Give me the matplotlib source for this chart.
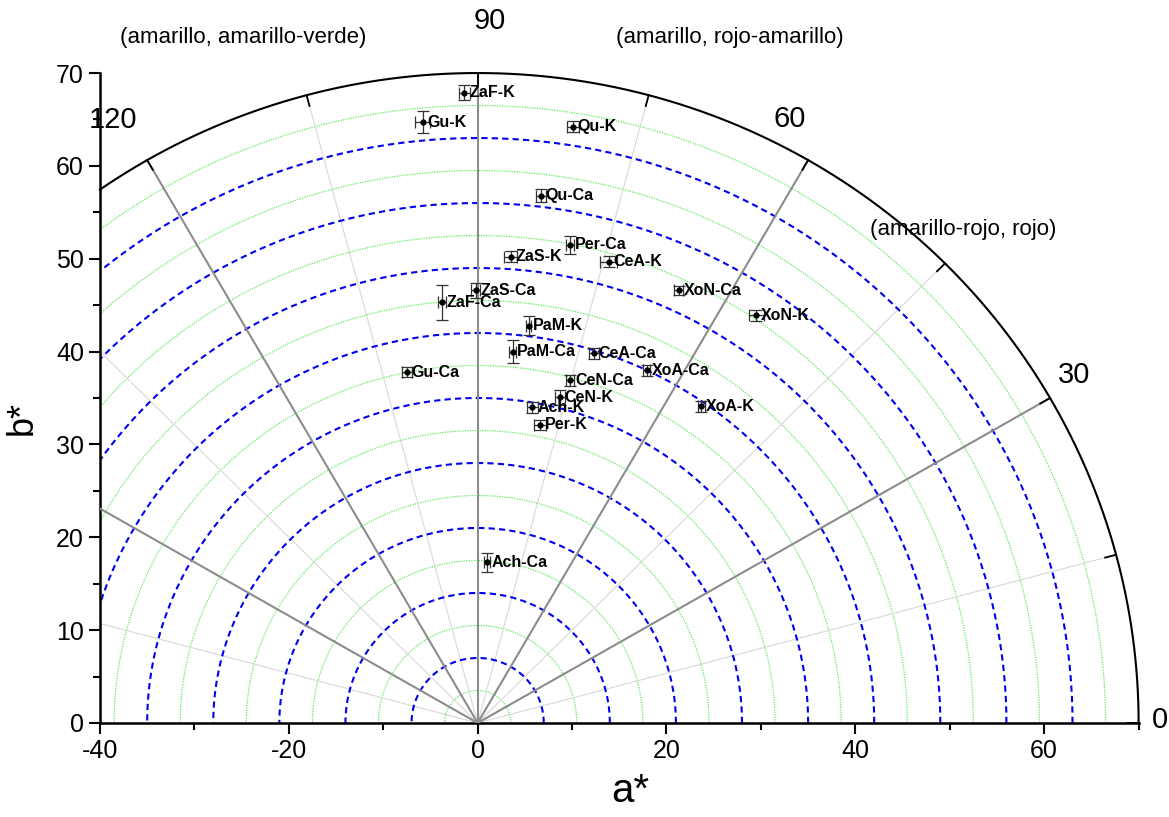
import numpy as np
import matplotlib
matplotlib.use('Agg')
import matplotlib.pyplot as plt
from matplotlib.ticker import MultipleLocator

plt.rcParams['font.family'] = ['Liberation Sans', 'DejaVu Sans']
plt.rcParams['axes.unicode_minus'] = False

# muestras: a*, b*, error a*, error b*
names = ['ZaF-K', 'Gu-K', 'Qu-K', 'Qu-Ca', 'Per-Ca', 'ZaS-K', 'CeA-K', 'ZaS-Ca',
         'ZaF-Ca', 'XoN-Ca', 'XoN-K', 'PaM-K', 'PaM-Ca', 'CeA-Ca', 'Gu-Ca', 'XoA-Ca',
         'CeN-Ca', 'CeN-K', 'Ach-K', 'XoA-K', 'Per-K', 'Ach-Ca']
a_vals = [-1.4, -5.8, 10.1, 6.7, 9.8, 3.5, 13.9, -0.2,
          -3.8, 21.3, 29.5, 5.4, 3.7, 12.3, -7.5, 17.9,
          9.8, 8.7, 5.8, 23.7, 6.6, 1.0]
b_vals = [67.9, 64.7, 64.2, 56.8, 51.5, 50.2, 49.7, 46.6,
          45.3, 46.6, 43.9, 42.8, 40.0, 39.8, 37.8, 38.0,
          36.9, 35.1, 34.0, 34.1, 32.1, 17.3]
a_err = [0.6, 0.8, 0.6, 0.5, 0.4, 0.7, 0.9, 0.5,
         0.4, 0.5, 0.8, 0.3, 0.4, 0.5, 0.5, 0.4,
         0.4, 0.5, 0.6, 0.4, 0.6, 0.3]
b_err = [0.8, 1.2, 0.6, 0.7, 1.0, 0.6, 0.6, 0.8,
         1.9, 0.5, 0.6, 1.0, 1.2, 0.6, 0.5, 0.6,
         0.6, 0.8, 0.6, 0.6, 0.5, 1.0]

blue_radii = [7, 14, 21, 28, 35, 42, 49, 56, 63]
green_radii = [3.5, 10.5, 17.5, 24.5, 31.5, 38.5, 45.5, 52.5, 59.5, 66.5]
dark_spokes = [30, 60, 90, 120, 150]
light_spokes = [15, 45, 75, 105, 135, 165]
angle_labels = ['0', '30', '60', '90', '120']
angle_label_pos = [(72.3, 0.3), (63.2, 37.5), (33.0, 65.1), (1.3, 75.6), (-38.6, 64.9)]
hue_texts = ['(amarillo, amarillo-verde)', '(amarillo, rojo-amarillo)', '(amarillo-rojo, rojo)']
hue_text_pos = [(-24.8, 73.8), (26.7, 73.8), (51.4, 53.1)]
R = 70

fig = plt.figure(figsize=(11.69, 8.17), dpi=100)
ax = fig.add_axes([0.0855, 0.1151, 0.974 - 0.0855, 0.9106 - 0.1151])

t = np.linspace(0, np.pi, 400)
for r in green_radii:
    ax.plot(r * np.cos(t), r * np.sin(t), color='#5fea5f', lw=0.9, ls=(0, (1, 1)), zorder=1)
for r in blue_radii:
    ax.plot(r * np.cos(t), r * np.sin(t), color='#0000ee', lw=1.5, ls=(0, (3, 2)), zorder=2)

for ang in light_spokes:
    th = np.radians(ang)
    ax.plot([0, R * np.cos(th)], [0, R * np.sin(th)], color='#d8d8d8', lw=0.8, zorder=1.5)
for ang in dark_spokes:
    th = np.radians(ang)
    ax.plot([0, R * np.cos(th)], [0, R * np.sin(th)], color='#8c8c8c', lw=1.5, zorder=3)

# borde exterior
t_max = np.arccos(-40 / R)
to = np.linspace(0, t_max, 400)
ax.plot(R * np.cos(to), R * np.sin(to), color='black', lw=1.5, clip_on=False, zorder=5)
for ang in range(0, 121, 15):
    th = np.radians(ang)
    ax.plot([68.8 * np.cos(th), R * np.cos(th)], [68.8 * np.sin(th), R * np.sin(th)],
            color='black', lw=1.3, clip_on=False, zorder=5)

for lab, (x, y) in zip(angle_labels, angle_label_pos):
    ax.text(x, y, lab, fontsize=21, ha='center', va='center', clip_on=False)
for lab, (x, y) in zip(hue_texts, hue_text_pos):
    ax.text(x, y, lab, fontsize=16, ha='center', va='center', clip_on=False)

ax.errorbar(a_vals, b_vals, xerr=a_err, yerr=b_err, fmt='o', ms=3.5, color='black',
            ecolor='#333333', elinewidth=0.9, capsize=4, capthick=0.9, zorder=6)
for n, x, y in zip(names, a_vals, b_vals):
    ax.text(x + 0.5, y, n, fontsize=11.5, fontweight='bold', ha='left', va='center', zorder=7)

ax.set_xlim(-40, 70)
ax.set_ylim(0, 70)
ax.spines['top'].set_visible(False)
ax.spines['right'].set_visible(False)
ax.spines['left'].set_linewidth(1.8)
ax.spines['bottom'].set_linewidth(1.8)
ax.xaxis.set_major_locator(MultipleLocator(20))
ax.xaxis.set_minor_locator(MultipleLocator(10))
ax.yaxis.set_major_locator(MultipleLocator(10))
ax.yaxis.set_minor_locator(MultipleLocator(5))
ax.tick_params(which='major', direction='out', length=8, width=1.5, labelsize=18)
ax.tick_params(which='minor', direction='out', length=5, width=1.5)
ax.set_xlabel('a*', fontsize=29)
ax.set_ylabel('b*', fontsize=26)
ax.xaxis.set_label_coords(0.511, -0.075)
ax.yaxis.set_label_coords(-0.058, 0.469)

fig.savefig('out.png', dpi=100)
